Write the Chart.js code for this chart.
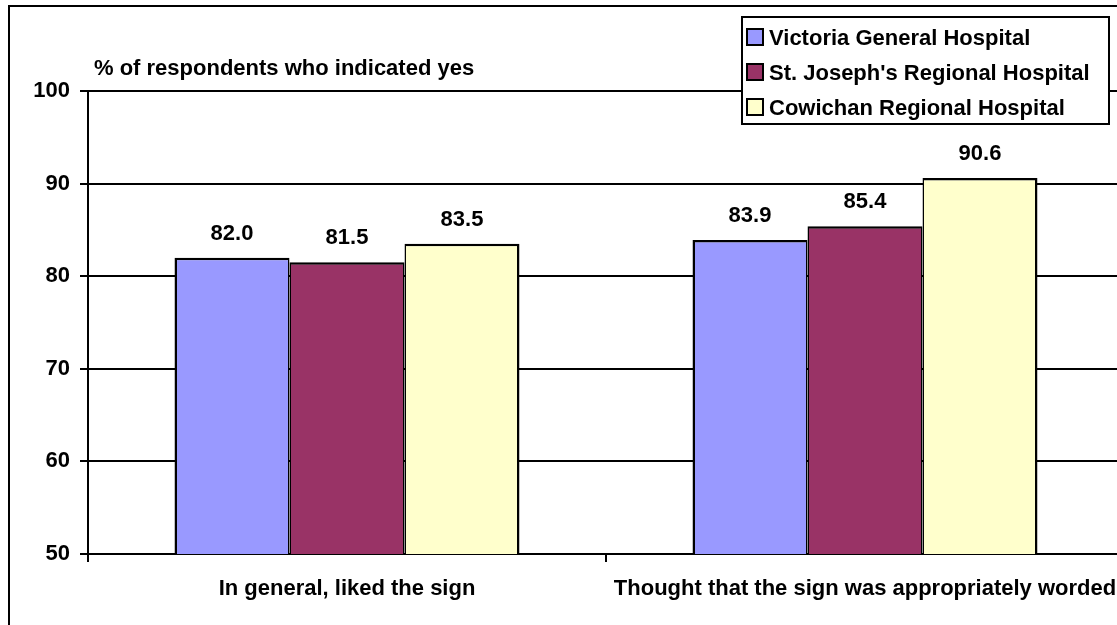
<!DOCTYPE html>
<html>
<head>
<meta charset="utf-8">
<script src="https://cdn.jsdelivr.net/npm/chart.js@4.4.0/dist/chart.umd.min.js"></script>
<style>
html,body{margin:0;padding:0;background:#fff;overflow:hidden;width:1117px;height:625px}
#frame{position:absolute;left:8px;top:5px;width:1160px;height:660px;border:2px solid #000}
#c{position:absolute;left:0;top:0}
</style>
</head>
<body>
<div id="frame"></div>
<canvas id="c" width="1140" height="625"></canvas>
<script>
// chart data
const categories = ['In general, liked the sign', 'Thought that the sign was appropriately worded'];
const hospitals = ['Victoria General Hospital', "St. Joseph's Regional Hospital", 'Cowichan Regional Hospital'];
const victoriaGeneral = [82.0, 83.9];
const stJosephs = [81.5, 85.4];
const cowichan = [83.5, 90.6];
const yTicks = [50, 60, 70, 80, 90, 100];
const axisTitle = '% of respondents who indicated yes';

const FONT = {family:'"Liberation Sans", Arial, sans-serif', size:22, weight:'bold'};
const fontStr = 'bold 22px "Liberation Sans", Arial, sans-serif';
const colors = ['#9999FF', '#993366', '#FFFFCC'];
const borders = [
  {left:2.5, top:2.5, right:1.5, bottom:0},
  {left:1.5, top:2.5, right:1.5, bottom:0},
  {left:1.5, top:2.5, right:2.5, bottom:0}
];

// value labels above each bar
const barLabels = {
  id:'barLabels',
  afterDatasetsDraw(chart){
    const ctx = chart.ctx;
    ctx.save();
    ctx.font = fontStr; ctx.fillStyle = '#000';
    ctx.textAlign = 'center'; ctx.textBaseline = 'alphabetic';
    chart.data.datasets.forEach((ds, i)=>{
      chart.getDatasetMeta(i).data.forEach((bar, j)=>{
        ctx.fillText(ds.data[j].toFixed(1), bar.x, bar.y - 18);
      });
    });
    ctx.restore();
  }
};

// axis title + boxed legend laid over the plot, like the original
const overlay = {
  id:'overlay',
  afterDraw(chart){
    const ctx = chart.ctx;
    ctx.save();
    ctx.font = fontStr; ctx.fillStyle = '#000';
    ctx.textAlign = 'left'; ctx.textBaseline = 'alphabetic';
    ctx.fillText(axisTitle, chart.chartArea.left + 6, 75);

    // legend box
    const lx = 742, ly = 17, lw = 367, lh = 107;
    ctx.fillStyle = '#fff'; ctx.fillRect(lx, ly, lw, lh);
    ctx.strokeStyle = '#000'; ctx.lineWidth = 2; ctx.strokeRect(lx, ly, lw, lh);
    chart.data.datasets.forEach((ds, i)=>{
      const base = 45 + i*35;
      ctx.fillStyle = ds.backgroundColor;
      ctx.fillRect(747, base - 16, 16, 16);
      ctx.strokeStyle = '#000'; ctx.lineWidth = 2;
      ctx.strokeRect(747, base - 16, 16, 16);
      ctx.fillStyle = '#000';
      ctx.fillText(ds.label, 769, base);
    });
    ctx.restore();
  }
};

const series = [victoriaGeneral, stJosephs, cowichan];

new Chart(document.getElementById('c'), {
  type:'bar',
  data:{
    labels: categories,
    datasets: series.map((d, i)=>({
      label: hospitals[i], data: d,
      backgroundColor: colors[i], borderColor:'#000',
      borderWidth: borders[i], borderSkipped:false,
      barPercentage:1, categoryPercentage:0.666
    }))
  },
  options:{
    responsive:false, animation:false,
    layout:{padding:{left:0, right:16, top:91, bottom:0}},
    plugins:{legend:{display:false}, tooltip:{enabled:false}},
    scales:{
      x:{
        grid:{display:true, offset:true, drawOnChartArea:false, color:'#000', lineWidth:2, tickLength:8},
        border:{display:true, color:'#000', width:2},
        ticks:{font:FONT, color:'#000', maxRotation:0, autoSkip:false, padding:14},
        afterFit(s){ s.height = 71; }
      },
      y:{
        min:50, max:100,
        afterBuildTicks(s){ s.ticks = yTicks.map(v=>({value:v})); },
        grid:{color:'#000', lineWidth:2, tickLength:8},
        border:{display:true, color:'#000', width:2},
        ticks:{font:FONT, color:'#000', padding:10},
        afterFit(s){ s.width = 88; }
      }
    }
  },
  plugins:[barLabels, overlay]
});
</script>
</body>
</html>
